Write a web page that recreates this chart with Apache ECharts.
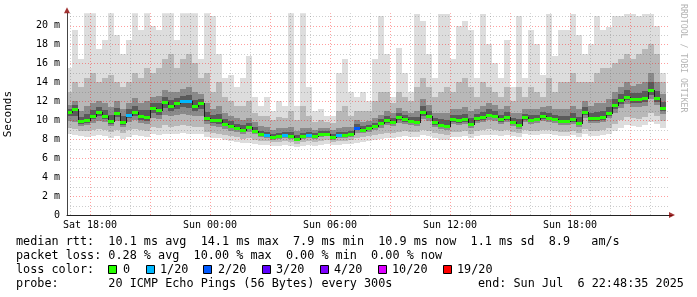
<!DOCTYPE html>
<html><head><meta charset="utf-8">
<script src="https://cdn.jsdelivr.net/npm/echarts@6/dist/echarts.min.js"></script>
<style>html,body{margin:0;padding:0;background:#fff}#c{width:697px;height:297px}</style>
</head><body><div id="c"></div>
<script>
// time grid: hours relative to Sat 18:00, one column per 18 minutes
const startHour = -1.2;
const stepHour = 0.3;

const median = [10.9,11.2,9.9,10.0,10.5,10.9,10.5,9.9,10.8,9.8,
 10.6,10.9,10.4,10.3,11.3,11.1,11.9,11.5,11.8,12.0,
 12.0,11.5,11.8,10.2,10.0,10.0,9.6,9.4,9.2,9.0,
 9.3,8.9,8.5,8.4,8.2,8.3,8.4,8.3,8.0,8.3,
 8.4,8.3,8.5,8.6,8.2,8.4,8.4,8.5,9.2,9.0,
 9.2,9.4,9.7,10.0,9.8,10.3,10.1,9.9,9.8,10.9,
 10.5,9.8,9.5,9.4,10.1,10.0,10.1,9.6,10.2,10.3,
 10.6,10.5,10.1,10.3,9.8,9.5,10.3,10.0,10.1,10.4,
 10.2,10.1,9.9,9.9,10.1,9.7,10.9,10.2,10.2,10.3,
 10.8,11.6,12.1,12.5,12.2,12.2,12.3,13.2,12.3,11.3];
const minV = [8.6,8.4,8.3,8.2,8.3,8.4,8.3,8.1,8.3,8.0,
 8.2,8.4,8.3,8.2,8.5,8.4,8.6,8.5,8.6,8.7,
 8.6,8.5,8.5,8.2,8.1,8.1,7.9,7.8,7.7,7.6,
 7.6,7.5,7.4,7.4,7.3,7.3,7.4,7.3,7.2,7.3,
 7.4,7.3,7.4,7.5,7.4,7.4,7.5,7.5,7.6,7.7,
 7.8,7.9,8.0,8.1,8.1,8.2,8.3,8.2,8.2,8.4,
 8.3,8.1,7.9,7.9,8.2,8.2,8.3,8.1,8.3,8.4,
 8.4,8.4,8.3,8.4,8.3,8.2,8.5,8.4,8.4,8.5,
 8.5,8.4,8.3,8.3,8.4,8.2,8.5,8.3,8.3,8.4,
 8.6,8.9,9.2,9.5,9.4,9.3,9.5,9.8,9.6,9.2];
const lo2 = [9.2,9.1,8.9,8.9,9.0,9.1,9.0,8.8,9.0,8.7,
 9.0,9.1,9.0,8.9,9.3,9.2,9.5,9.3,9.4,9.5,
 9.4,9.3,9.3,8.8,8.7,8.6,8.4,8.3,8.2,8.0,
 8.1,7.9,7.8,7.8,7.7,7.7,7.8,7.7,7.5,7.7,
 7.8,7.7,7.8,7.9,7.7,7.8,7.8,7.9,8.1,8.2,
 8.3,8.4,8.5,8.7,8.7,8.8,8.9,8.8,8.8,9.0,
 8.9,8.7,8.5,8.4,8.8,8.8,8.9,8.6,8.9,9.0,
 9.1,9.0,8.9,9.0,8.8,8.7,9.0,8.9,8.9,9.0,
 9.0,8.9,8.8,8.8,8.9,8.7,9.1,8.9,8.9,9.0,
 9.2,9.6,10.0,10.3,10.2,10.1,10.3,10.8,10.4,9.9];
const lo3 = [9.9,9.8,9.4,9.5,9.7,9.9,9.8,9.4,9.9,9.3,
 9.8,10.0,9.7,9.6,10.2,10.1,10.6,10.4,10.6,10.7,
 10.6,10.4,10.5,9.6,9.4,9.3,9.1,8.9,8.8,8.6,
 8.8,8.5,8.2,8.1,7.9,8.0,8.1,8.0,7.8,8.0,
 8.1,8.0,8.2,8.3,7.9,8.1,8.1,8.2,8.7,8.7,
 8.8,9.0,9.2,9.5,9.4,9.7,9.6,9.5,9.4,10.1,
 9.9,9.3,9.1,9.0,9.6,9.5,9.6,9.2,9.7,9.8,
 10.0,9.9,9.6,9.8,9.4,9.1,9.8,9.6,9.7,9.9,
 9.8,9.7,9.5,9.5,9.6,9.3,10.2,9.7,9.7,9.8,
 10.2,10.8,11.3,11.7,11.4,11.4,11.5,12.2,11.6,10.7];
const hi3 = [11.6,12.0,11.0,11.5,11.8,12.0,11.8,11.4,12.0,11.2,
 11.8,12.3,11.8,12.0,12.5,12.6,13.2,13.0,13.0,13.3,
 13.5,13.0,12.8,11.8,11.2,11.5,10.8,10.5,10.2,10.0,
 10.2,9.8,9.4,9.3,9.0,9.2,9.2,9.3,8.9,9.2,
 9.2,9.0,9.2,9.2,9.0,9.2,9.3,9.3,10.0,9.8,
 9.9,10.2,10.6,11.0,10.8,11.3,11.0,10.8,11.0,12.2,
 11.6,10.8,10.8,10.8,11.2,11.2,11.4,11.0,11.2,11.5,
 11.8,11.6,11.2,11.5,10.8,10.8,11.2,11.2,11.2,11.4,
 11.5,11.2,11.2,11.2,11.5,11.2,12.0,11.5,11.8,11.8,
 12.2,13.0,13.5,14.0,13.6,13.8,14.0,15.0,14.0,12.8];
const hi2 = [13.0,14.0,13.5,14.5,15.0,14.0,14.5,14.8,14.0,13.5,
 14.0,15.0,14.5,15.5,15.0,15.5,16.5,17.0,15.5,16.5,
 17.0,16.0,14.5,15.0,13.0,14.0,12.5,12.0,11.5,11.5,
 12.0,10.8,10.5,10.5,10.0,10.3,10.2,11.0,10.0,11.5,
 10.5,9.8,10.0,9.8,9.7,11.0,11.5,10.5,11.0,11.0,
 11.0,12.0,13.0,13.0,11.8,13.0,12.5,12.0,13.5,14.5,
 13.5,12.5,13.0,13.5,13.0,14.0,14.5,13.5,12.5,14.0,
 13.5,13.0,12.5,13.5,12.0,13.5,12.5,13.5,13.0,12.5,
 14.5,13.0,14.0,14.0,15.0,14.0,14.0,14.0,15.0,15.5,
 15.5,16.0,16.5,17.0,16.5,17.0,17.5,18.0,17.0,14.0];
const maxV = [15.5,19.5,16.5,21.3,21.3,17.5,18.5,21.3,19.0,17.0,
 18.5,21.3,19.5,21.3,20.0,19.5,21.3,21.3,18.5,21.3,
 21.3,21.3,16.5,21.3,21.0,17.0,14.5,14.8,13.5,14.5,
 16.8,12.5,11.5,12.5,11.0,12.0,11.5,21.3,11.5,21.3,
 13.5,11.0,11.2,10.5,10.5,15.0,16.5,13.0,12.5,13.0,
 12.0,16.5,21.0,17.0,12.5,17.6,15.0,13.0,21.2,20.5,
 17.0,14.5,21.2,21.2,16.5,20.0,20.5,19.5,14.5,21.2,
 18.0,16.0,14.5,18.5,13.5,21.0,14.5,19.5,18.0,14.8,
 21.2,16.8,19.5,19.5,21.2,19.0,17.0,18.0,21.0,19.5,
 19.8,21.0,21.0,21.2,21.2,21.0,21.2,21.2,20.0,15.0];
// columns with packet loss: column index -> loss colour index
const lossEvents = {10:1,19:1,20:1,33:1,36:1,40:1,45:1,48:2};
const lossColors = ['#26ff00','#00b8ff','#0059ff','#5e00ff','#7e00ff','#dd00ff','#ff0000'];
const lossLabels = ['0','1/20','2/20','3/20','4/20','10/20','19/20'];

const xLabelHours = [0,6,12,18,24];
const xLabels = ['Sat 18:00','Sun 00:00','Sun 06:00','Sun 12:00','Sun 18:00'];
const xMajorHours = [0,3,6,9,12,15,18,21,24,27];
const xMinorHours = [-1,1,2,4,5,7,8,10,11,13,14,16,17,19,20,22,23,25,26,28];
const yMajor = [2,4,6,8,10,12,14,16,18,20];
const yMinor = [1,3,5,7,9,11,13,15,17,19,21];

const statsLines = [
 'median rtt:  10.1 ms avg  14.1 ms max  7.9 ms min  10.9 ms now  1.1 ms sd  8.9   am/s',
 'packet loss: 0.28 % avg  10.00 % max  0.00 % min  0.00 % now'
];
const probeText = 'probe:       20 ICMP Echo Pings (56 Bytes) every 300s';
const endText = 'end: Sun Jul  6 22:48:35 2025';

const X_MIN = -1.15, X_MAX = 29.1, Y_MAX = 21.3;
const MONO = '"DejaVu Sans Mono", monospace';

const smokeData = median.map((m,i)=>[i, startHour+i*stepHour, startHour+(i+1)*stepHour,
  minV[i], lo2[i], lo3[i], hi3[i], hi2[i], maxV[i], m]);
const medData = median.map((m,i)=>[i, startHour+i*stepHour, startHour+(i+1)*stepHour,
  m, i>0?median[i-1]:m, lossEvents[i]||0]);

const smokeColors = ['#dddddd','#b8b8b8','#8a8a8a'];
function smokeItem(params, api){
  const xa = Math.round(api.coord([api.value(1),0])[0]);
  const xb = Math.round(api.coord([api.value(2),0])[0]);
  const pairs = [[3,8],[4,7],[5,6]];
  const children = pairs.map((p,k)=>{
    const ya = Math.round(api.coord([0, api.value(p[0])])[1]);
    const yb = Math.round(api.coord([0, api.value(p[1])])[1]);
    return {type:'rect', shape:{x:xa,y:yb,width:xb-xa,height:ya-yb}, style:{fill:smokeColors[k]}};
  });
  // dark core hugging the median, drawn from the lo3/hi3 band's inner half
  const ym = api.coord([0, api.value(9)])[1];
  const yl = api.coord([0, api.value(5)])[1];
  const yh = api.coord([0, api.value(6)])[1];
  const c0 = Math.round(ym + (yl-ym)*0.5), c1 = Math.round(ym + (yh-ym)*0.45);
  children.push({type:'rect', shape:{x:xa,y:c1,width:xb-xa,height:c0-c1}, style:{fill:'#5a5a5a'}});
  return {type:'group', children};
}
function medItem(params, api){
  const xa = Math.round(api.coord([api.value(1),0])[0]);
  const xb = Math.round(api.coord([api.value(2),0])[0]);
  const ym = Math.round(api.coord([0, api.value(3)])[1]);
  const yp = Math.round(api.coord([0, api.value(4)])[1]);
  return {type:'group', children:[
    {type:'rect', shape:{x:xa, y:Math.min(ym,yp), width:1, height:Math.abs(ym-yp)+1}, style:{fill:'#1e1e1e'}},
    {type:'rect', shape:{x:xa, y:ym-1, width:xb-xa, height:3}, style:{fill:lossColors[api.value(5)]}}
  ]};
}
const MAJ = 'rgba(255,0,0,0.38)', MIN = 'rgba(100,100,100,0.32)';
function vGrid(params, api){
  const x = Math.round(api.coord([api.value(0),0])[0]) + 0.5;
  const y0 = api.coord([0,0])[1], y1 = api.coord([0,Y_MAX])[1];
  return {type:'line', shape:{x1:x,y1:y0,x2:x,y2:y1}, style:{stroke: api.value(1)?MAJ:MIN, lineWidth:1, lineDash:[1,2]}};
}
function hGrid(params, api){
  const y = Math.round(api.coord([0,api.value(0)])[1]) + 0.5;
  const x0 = api.coord([X_MIN,0])[0], x1 = api.coord([X_MAX,0])[0]-3;
  return {type:'line', shape:{x1:x0,y1:y,x2:x1,y2:y}, style:{stroke: api.value(1)?MAJ:MIN, lineWidth:1, lineDash:[1,2]}};
}
const vGridData = xMajorHours.map(h=>[h,1]).concat(xMinorHours.map(h=>[h,0]));
const hGridData = yMajor.map(v=>[v,1]).concat(yMinor.map(v=>[v,0]));

const graphics = [];
statsLines.forEach((t,k)=>graphics.push({type:'text', x:16, y:241.5+14*k,
  style:{text:t, font:'11.8px '+MONO, fill:'#000', verticalAlign:'middle'}}));
graphics.push({type:'text', x:16, y:269.5, style:{text:'loss color:', font:'11.8px '+MONO, fill:'#000', verticalAlign:'middle'}});
const sqX = [108,146,203,262,320,378,443];
const lbX = [123,160,218,276,334,392,457];
lossLabels.forEach((l,k)=>{
  graphics.push({type:'rect', shape:{x:sqX[k]+0.5, y:265.5, width:8, height:8}, style:{fill:lossColors[k], stroke:'#000', lineWidth:1}});
  graphics.push({type:'text', x:lbX[k], y:269.5, style:{text:l, font:'11.8px '+MONO, fill:'#000', verticalAlign:'middle'}});
});
graphics.push({type:'text', x:16, y:283.5, style:{text:probeText, font:'11.8px '+MONO, fill:'#000', verticalAlign:'middle'}});
graphics.push({type:'text', x:478, y:283.5, style:{text:endText, font:'11.8px '+MONO, fill:'#000', verticalAlign:'middle'}});
graphics.push({type:'text', x:683, y:4, rotation:-Math.PI/2,
  style:{text:'RRDTOOL / TOBI OETIKER', font:'8.2px '+MONO, fill:'#b4b4b4', verticalAlign:'middle'}});

const chart = echarts.init(document.getElementById('c'), null, {renderer:'canvas'});
chart.setOption({
  animation:false,
  backgroundColor:'#fff',
  textStyle:{fontFamily:MONO},
  grid:{left:67, right:25, top:13.2, bottom:82, containLabel:false, outerBoundsMode:'none'},
  xAxis:{type:'value', min:X_MIN, max:X_MAX, z:10,
    axisLine:{onZero:false, lineStyle:{color:'#222', width:1}},
    axisTick:{show:false}, splitLine:{show:false},
    axisLabel:{customValues:xLabelHours, margin:5, color:'#000', fontSize:10, fontFamily:MONO,
      formatter:v=>{const k=xLabelHours.indexOf(Math.round(v)); return k>=0?xLabels[k]:'';}}},
  yAxis:{type:'value', min:0, max:Y_MAX, interval:1, z:10,
    name:'Seconds', nameLocation:'middle', nameRotate:90, nameGap:53,
    nameTextStyle:{fontFamily:MONO, fontSize:11, color:'#000'},
    axisLine:{show:true, onZero:false, lineStyle:{color:'#444', width:1}},
    axisTick:{show:false}, splitLine:{show:false},
    axisLabel:{margin:7, color:'#000', fontSize:10, fontFamily:MONO,
      formatter:v=>{ if(Math.abs(v-Math.round(v))>1e-6) return ''; const r=Math.round(v); if(r%2) return ''; return r===0?'0':r+' m';}}},
  graphic:graphics,
  series:[
    {type:'custom', renderItem:smokeItem, data:smokeData, clip:true, z:1, silent:true,
      encode:{x:[1,2], y:[3,8]}},
    {type:'custom', renderItem:vGrid, data:vGridData, clip:false, z:2, silent:true, encode:{x:0}},
    {type:'custom', renderItem:hGrid, data:hGridData, clip:false, z:2, silent:true, encode:{y:0}},
    {type:'custom', renderItem:medItem, data:medData, clip:true, z:3, silent:true,
      encode:{x:[1,2], y:[3,4]}},
    {type:'scatter', data:[[X_MAX,0]], symbol:'triangle', symbolRotate:-90, symbolSize:[6,6],
      itemStyle:{color:'#8b0000'}, clip:false, silent:true, z:11},
    {type:'scatter', data:[[X_MIN,Y_MAX]], symbol:'triangle', symbolSize:[6,6], symbolOffset:[0,-3],
      itemStyle:{color:'#8b0000'}, clip:false, silent:true, z:11}
  ]
});
</script></body></html>
